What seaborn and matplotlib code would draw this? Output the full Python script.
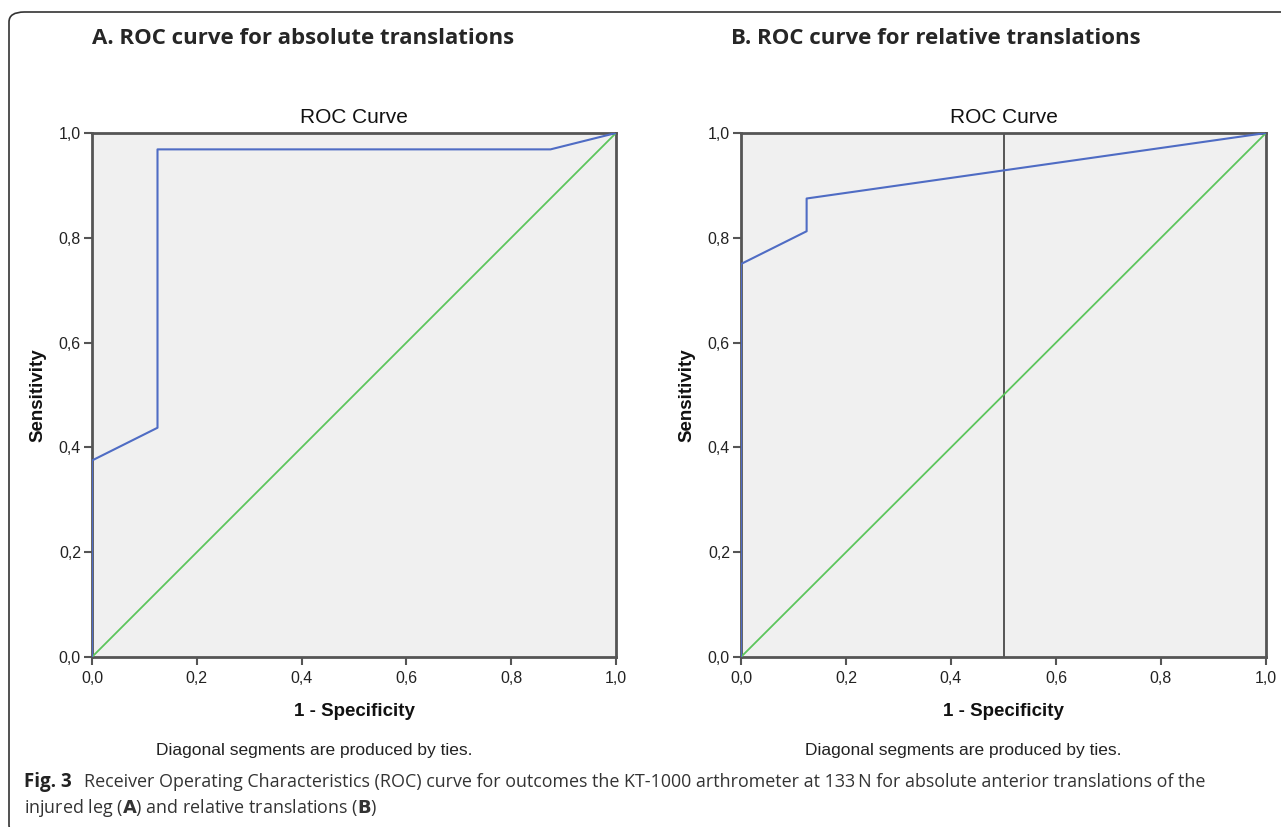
import numpy as np
import pandas as pd
import matplotlib.pyplot as plt
import seaborn as sns
from matplotlib.patches import FancyBboxPatch

# ROC curve points
fpr_abs = [0.0, 0.0, 0.125, 0.125, 0.875, 1.0]
tpr_abs = [0.0, 0.375, 0.4375, 0.96875, 0.96875, 1.0]

fpr_rel = [0.0, 0.0, 0.125, 0.125, 1.0]
tpr_rel = [0.0, 0.75, 0.8125, 0.875, 1.0]

ref_x = [0.0, 1.0]
ref_y = [0.0, 1.0]
cutoff_rel = 0.5

ticks = [0.0, 0.2, 0.4, 0.6, 0.8, 1.0]
tick_labels = ["0,0", "0,2", "0,4", "0,6", "0,8", "1,0"]

panel_titles = ["A. ROC curve for absolute translations",
                "B. ROC curve for relative translations"]

BLUE = "#4f6cc4"
GREEN = "#5cc55c"
SPINE = "#555555"

sns.set_theme(style="white")
plt.rcParams["font.family"] = ["Liberation Sans", "DejaVu Sans"]

fig = plt.figure(figsize=(12.81, 8.27), dpi=100)
W, H = 1281, 827


def fx(px):
    return px / W


def fy(py):
    return 1 - py / H


# frame around the figure (open to the right and bottom)
frame = FancyBboxPatch((fx(9), fy(835)), fx(1400), fy(12) - fy(835),
                       boxstyle="round,pad=0,rounding_size=0.012",
                       transform=fig.transFigure, fill=False,
                       edgecolor="#333333", linewidth=1.2)
fig.patches.append(frame)

axes_px = [(92, 616), (741, 1266)]
curves = [(fpr_abs, tpr_abs), (fpr_rel, tpr_rel)]

for i, ((x0, x1), (fx_data, ty_data)) in enumerate(zip(axes_px, curves)):
    ax = fig.add_axes([fx(x0), fy(657), fx(x1 - x0), fy(133) - fy(657)])
    ax.set_facecolor("#f0f0f0")

    roc = pd.DataFrame({"fpr": fx_data, "tpr": ty_data})
    diag = pd.DataFrame({"fpr": ref_x, "tpr": ref_y})
    sns.lineplot(data=diag, x="fpr", y="tpr", sort=False, estimator=None,
                 color=GREEN, linewidth=1.3, ax=ax, zorder=3)
    sns.lineplot(data=roc, x="fpr", y="tpr", sort=False, estimator=None,
                 color=BLUE, linewidth=1.5, ax=ax, zorder=3)
    if i == 1:
        ax.axvline(cutoff_rel, color=SPINE, linewidth=1.4, zorder=2)

    ax.set_xlim(0, 1)
    ax.set_ylim(0, 1)
    ax.set_xticks(ticks)
    ax.set_xticklabels(tick_labels)
    ax.set_yticks(ticks)
    ax.set_yticklabels(tick_labels)
    ax.tick_params(axis="both", which="both", direction="out", length=6,
                   width=1.5, color=SPINE, labelsize=11.5, labelcolor="#222222",
                   bottom=True, left=True, pad=2)
    ax.tick_params(axis="x", pad=4)
    for sp in ax.spines.values():
        sp.set_color(SPINE)
        sp.set_linewidth(2)
        sp.set_zorder(2.5)

    ax.set_xlabel("1 - Specificity", fontsize=13.5, fontweight="bold",
                  labelpad=12, color="#111111")
    ax.set_ylabel("Sensitivity", fontsize=13.5, fontweight="bold",
                  labelpad=9, color="#111111")
    ax.set_title("ROC Curve", fontsize=15, pad=7, color="#111111")

    cx = (x0 + x1) / 2 - 40
    fig.text(fx(cx), fy(750), "Diagonal segments are produced by ties.",
             ha="center", va="center", fontsize=12.5, color="#222222")

fig.text(fx(92), fy(38), panel_titles[0], ha="left", va="center",
         fontsize=16, fontweight="bold", family=["Open Sans", "DejaVu Sans"])
fig.text(fx(731), fy(38), panel_titles[1], ha="left", va="center",
         fontsize=16, fontweight="bold", family=["Open Sans", "DejaVu Sans"])

cap_font = ["Open Sans", "DejaVu Sans"]
fig.text(fx(24), fy(782), "Fig. 3", ha="left", va="center",
         fontsize=13.5, fontweight="bold", family=cap_font, color="#222222")
fig.text(fx(84), fy(782),
         "Receiver Operating Characteristics (ROC) curve for outcomes the "
         "KT-1000 arthrometer at 133\u2009N for absolute anterior translations of the",
         ha="left", va="center", fontsize=12.9, family=cap_font, color="#333333")
fig.text(fx(24), fy(808),
         "injured leg ($\\bf{A}$) and relative translations ($\\bf{B}$)",
         ha="left", va="center", fontsize=12.9, family=cap_font, color="#333333")

fig.savefig("out.png", dpi=100)
